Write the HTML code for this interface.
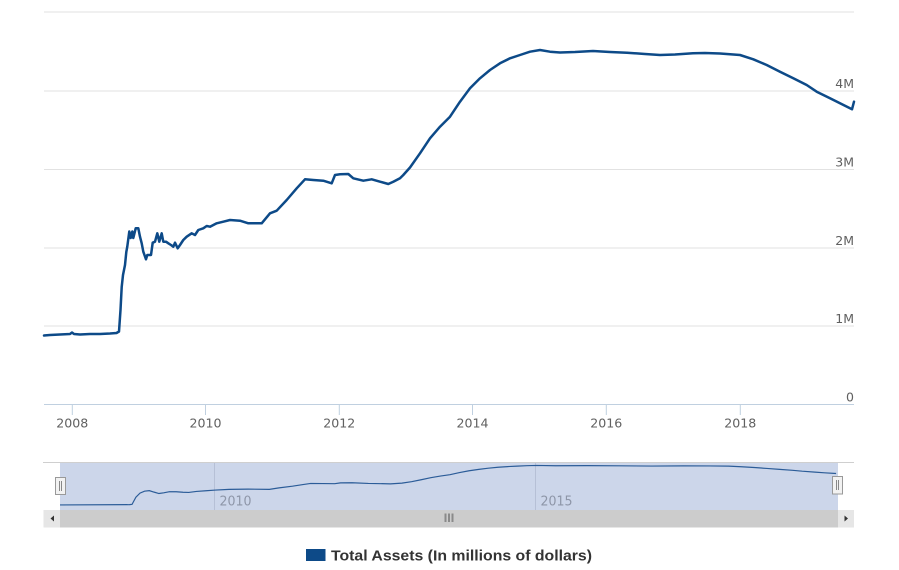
<!DOCTYPE html>
<html>
<head>
<meta charset="utf-8">
<style>
  html,body{margin:0;padding:0;background:#fff;}
  svg{display:block;}
  .ax{font-family:"DejaVu Sans","Liberation Sans",sans-serif;font-size:12.5px;fill:#606060;}
</style>
</head>
<body>
<svg width="899" height="570" viewBox="0 0 899 570" xmlns="http://www.w3.org/2000/svg">
  <rect x="0" y="0" width="899" height="570" fill="#ffffff"/>
  <!-- grid lines -->
  <g stroke="#e2e2e2" stroke-width="1">
    <line x1="44" y1="12" x2="854" y2="12"/>
    <line x1="44" y1="91" x2="854" y2="91"/>
    <line x1="44" y1="169.5" x2="854" y2="169.5"/>
    <line x1="44" y1="248" x2="854" y2="248"/>
    <line x1="44" y1="326" x2="854" y2="326"/>
  </g>
  <!-- x axis -->
  <line x1="44" y1="404.5" x2="854" y2="404.5" stroke="#c0d0e0" stroke-width="1"/>
  <g stroke="#c0d0e0" stroke-width="1">
    <line x1="72.3" y1="404.5" x2="72.3" y2="415"/>
    <line x1="205.5" y1="404.5" x2="205.5" y2="415"/>
    <line x1="339.3" y1="404.5" x2="339.3" y2="415"/>
    <line x1="472.5" y1="404.5" x2="472.5" y2="415"/>
    <line x1="606.3" y1="404.5" x2="606.3" y2="415"/>
    <line x1="740.3" y1="404.5" x2="740.3" y2="415"/>
  </g>
  <g class="ax" text-anchor="middle">
    <text x="72.3" y="427.5" textLength="32" lengthAdjust="spacingAndGlyphs">2008</text>
    <text x="205.5" y="427.5" textLength="32" lengthAdjust="spacingAndGlyphs">2010</text>
    <text x="339.3" y="427.5" textLength="32" lengthAdjust="spacingAndGlyphs">2012</text>
    <text x="472.5" y="427.5" textLength="32" lengthAdjust="spacingAndGlyphs">2014</text>
    <text x="606.3" y="427.5" textLength="32" lengthAdjust="spacingAndGlyphs">2016</text>
    <text x="740.3" y="427.5" textLength="32" lengthAdjust="spacingAndGlyphs">2018</text>
  </g>
  <!-- y labels -->
  <g class="ax" text-anchor="end">
    <text x="854" y="88">4M</text>
    <text x="854" y="166.5">3M</text>
    <text x="854" y="245">2M</text>
    <text x="854" y="323">1M</text>
    <text x="854" y="401.5">0</text>
  </g>
  <!-- series -->
  <path id="ser" fill="none" stroke="#0d4a88" stroke-width="2.5" stroke-linejoin="round" stroke-linecap="round"
    d="M44,335.5 L50,335 L60,334.5 L70,334 L72,332.5 L74,334 L80,334.5 L90,334 L100,334 L110,333.5 L116.5,333 L119,331.5 L120.5,310 L121.7,287 L123,275 L125,265 L126.3,252 L127.3,246.5 L129.3,231.5 L130.7,238 L132.3,231.5 L133.3,238 L135.7,228.3 L138.3,228.3 L140,236.7 L141.7,243.3 L143.3,251.7 L146,259.3 L147.3,255 L151,255 L152.7,242.7 L155,241.7 L157.3,233.3 L159.3,241.7 L161.7,233.3 L163.3,241.7 L166,241.7 L168.3,243.3 L171,245 L173.3,246.7 L175,242.7 L177.7,248.3 L180,245 L183.3,240 L186.7,236.7 L191.7,233.3 L195,235 L198.3,230 L203.3,228.3 L206.7,226 L210,226.7 L216.7,223.3 L223.3,221.7 L230,220 L240,220.7 L248.3,223.3 L261.7,223.3 L270,213.3 L276.7,210.7 L286.7,200 L296.7,188.3 L305,179.3 L313.3,180 L323.3,180.7 L331.7,183.3 L335,175 L340,174.3 L348.3,174 L353.3,178.3 L363.3,180.7 L371.7,179.3 L380,181.7 L388.3,184 L393.3,181.7 L400,178.3 L403.3,175 L410,167.5 L420,153.3 L430,138.3 L440,126.7 L450,116.7 L460,101.7 L470,88.3 L480,78.3 L490,70 L500,63.3 L510,58.3 L520,55 L530,51.7 L540,50 L550,51.7 L560,52.5 L575,52 L593,51 L610,52 L627,52.7 L645,54 L660,55 L675,54.5 L693,53.3 L705,53 L720,53.5 L740,55 L753.3,59.3 L766.7,65 L780,71.7 L793.3,78.3 L806.7,85 L816.7,91.7 L830,98.3 L840,103.3 L850,108.3 L852,109.3 L854,101.7"/>

  <!-- navigator -->
  <line x1="43" y1="462.5" x2="854" y2="462.5" stroke="#cfcfcf" stroke-width="1"/>
  <rect x="60" y="463" width="778" height="47" fill="#ccd6ea"/>
  <g stroke="#b6c0d6" stroke-width="1">
    <line x1="214.5" y1="463" x2="214.5" y2="510"/>
    <line x1="535.5" y1="463" x2="535.5" y2="510"/>
  </g>
  <g font-family="DejaVu Sans, Liberation Sans, sans-serif" font-size="13" fill="#8e96a8">
    <text x="219.5" y="505.5" textLength="32" lengthAdjust="spacingAndGlyphs">2010</text>
    <text x="540.5" y="505.5" textLength="32" lengthAdjust="spacingAndGlyphs">2015</text>
  </g>
  <path fill="none" stroke="#2b5c98" stroke-width="1.2" vector-effect="non-scaling-stroke"
    transform="matrix(0.9605 0 0 0.1383 17.74 458.53)"
    d="M44,335.5 L116.5,333.5 L119,331.5 L123,280 L127.3,250 L132,236 L137,232 L142,243 L147,253 L152,248 L158,240 L165,240 L172,244 L178,245 L186,238 L196,233 L206,228 L220,223 L240,221 L262,223 L272,212 L286,200 L297,188 L305,180 L330,182 L336,176 L348,175 L365,180 L388,183 L400,178 L410,167.5 L420,153.3 L430,138.3 L440,126.7 L450,116.7 L460,101.7 L470,88.3 L480,78.3 L490,70 L500,63.3 L510,58.3 L520,55 L530,51.7 L540,50 L560,52 L593,51.5 L627,52.5 L660,54.5 L693,53.3 L720,53.5 L740,55 L753.3,59.3 L766.7,65 L780,71.7 L793.3,78.3 L806.7,85 L816.7,91.7 L830,98.3 L840,103.3 L852,108.5"/>
  <!-- handles -->
  <g fill="#f2f2f2" stroke="#999" stroke-width="1">
    <rect x="55.5" y="477.5" width="10" height="17"/>
    <rect x="832.5" y="476.5" width="10" height="17.5"/>
  </g>
  <g stroke="#888" stroke-width="1">
    <line x1="59.5" y1="481" x2="59.5" y2="491"/>
    <line x1="61.5" y1="481" x2="61.5" y2="491"/>
    <line x1="836.5" y1="480" x2="836.5" y2="490"/>
    <line x1="838.5" y1="480" x2="838.5" y2="490"/>
  </g>
  <!-- scrollbar -->
  <rect x="60" y="510" width="778" height="17.5" fill="#cccccc"/>
  <rect x="43.5" y="510" width="16.5" height="17.5" fill="#e6e6e6"/>
  <rect x="838" y="510" width="16" height="17.5" fill="#e6e6e6"/>
  <path d="M54,515.5 L50.5,518.5 L54,521.5 Z" fill="#333"/>
  <path d="M844.5,515.5 L848,518.5 L844.5,521.5 Z" fill="#333"/>
  <g fill="#8a8a8a">
    <rect x="444.5" y="513.5" width="2" height="8.5"/>
    <rect x="448" y="513.5" width="2" height="8.5"/>
    <rect x="451.5" y="513.5" width="2" height="8.5"/>
  </g>

  <!-- legend -->
  <rect x="306" y="549" width="19.5" height="12" fill="#0d4a88"/>
  <text x="331" y="560.5" font-family="Liberation Sans, Arial, sans-serif" font-weight="bold" font-size="15" fill="#333333" textLength="261" lengthAdjust="spacingAndGlyphs">Total Assets (In millions of dollars)</text>
</svg>
</body>
</html>
